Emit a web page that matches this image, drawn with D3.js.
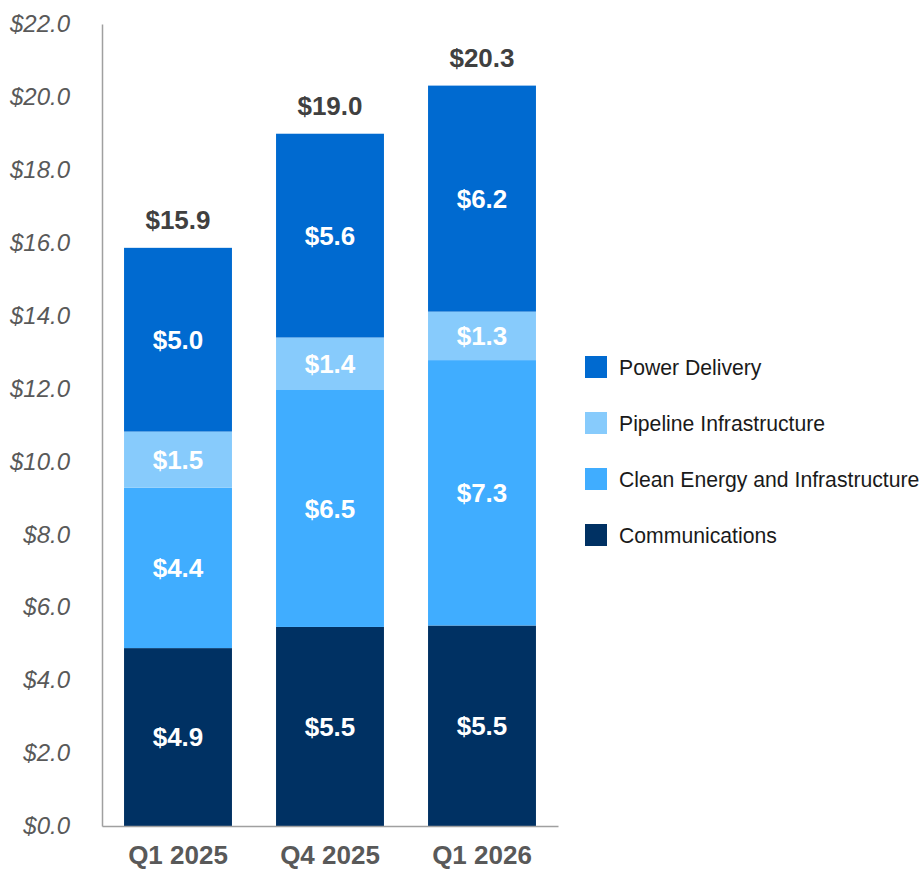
<!DOCTYPE html>
<html>
<head>
<meta charset="utf-8">
<script src="https://cdn.jsdelivr.net/npm/d3@7"></script>
<style>
  html, body { margin: 0; padding: 0; background: #ffffff; }
  svg { display: block; }
</style>
</head>
<body>
<svg id="chart" width="922" height="869"></svg>
<script>
// ---- Data ----
const categories = ["Q1 2025", "Q4 2025", "Q1 2026"];
const seriesNames = ["Communications", "Clean Energy and Infrastructure", "Pipeline Infrastructure", "Power Delivery"];
const communications = [4.88, 5.46, 5.50];
const cleanEnergy = [4.40, 6.50, 7.28];
const pipeline = [1.54, 1.44, 1.33];
const powerDelivery = [5.04, 5.59, 6.20];
const totals = [15.9, 19.0, 20.3];
const yTicks = [0, 2, 4, 6, 8, 10, 12, 14, 16, 18, 20, 22];
const legendOrder = ["Power Delivery", "Pipeline Infrastructure", "Clean Energy and Infrastructure", "Communications"];

const colors = {
  "Communications": "#003163",
  "Clean Energy and Infrastructure": "#40adff",
  "Pipeline Infrastructure": "#87cbfc",
  "Power Delivery": "#006ad0"
};

const seriesValues = [communications, cleanEnergy, pipeline, powerDelivery];
const rows = categories.map((c, i) => {
  const r = { category: c };
  seriesNames.forEach((s, k) => r[s] = seriesValues[k][i]);
  return r;
});

const svg = d3.select("#chart");
const font = "'Liberation Sans', Arial, Helvetica, sans-serif";

const x = d3.scaleBand().domain(categories).range([102, 558]).paddingInner(0.29).paddingOuter(0.145);
const y = d3.scaleLinear().domain([0, 22]).range([826, 24]);

const stack = d3.stack().keys(seriesNames)(rows);

// bars
const layers = svg.append("g").selectAll("g").data(stack).join("g")
  .attr("fill", d => colors[d.key]);
layers.selectAll("rect").data(d => d.map(p => ({ p, key: d.key }))).join("rect")
  .attr("x", d => x(d.p.data.category))
  .attr("width", x.bandwidth())
  .attr("y", d => y(d.p[1]))
  .attr("height", d => y(d.p[0]) - y(d.p[1]));

// segment labels
layers.selectAll("text").data(d => d.map(p => ({ p, key: d.key }))).join("text")
  .attr("x", d => x(d.p.data.category) + x.bandwidth() / 2)
  .attr("y", d => (y(d.p[0]) + y(d.p[1])) / 2)
  .attr("dy", "0.36em")
  .attr("text-anchor", "middle")
  .attr("fill", "#ffffff")
  .attr("font-family", font)
  .attr("font-weight", "bold")
  .attr("font-size", 26)
  .text(d => "$" + (d.p[1] - d.p[0]).toFixed(1));

// totals
svg.append("g").selectAll("text").data(categories).join("text")
  .attr("x", c => x(c) + x.bandwidth() / 2)
  .attr("y", (c, i) => y(d3.sum(seriesValues, s => s[i])) - 19)
  .attr("text-anchor", "middle")
  .attr("fill", "#404040")
  .attr("font-family", font)
  .attr("font-weight", "bold")
  .attr("font-size", 26)
  .text((c, i) => "$" + totals[i].toFixed(1));

// y axis
const yAxis = d3.axisLeft(y).tickValues(yTicks).tickSize(0).tickPadding(32)
  .tickFormat(v => "$" + v.toFixed(1));
const gy = svg.append("g").attr("transform", "translate(102,0)").call(yAxis);
gy.select(".domain").attr("stroke", "#a0a0a0").attr("stroke-width", 1.5);
gy.selectAll("text")
  .attr("font-family", font)
  .attr("font-style", "italic")
  .attr("font-size", 24)
  .attr("fill", "#595959");

// x axis
const xAxis = d3.axisBottom(x).tickSize(0).tickPadding(20);
const gx = svg.append("g").attr("transform", "translate(0,826)").call(xAxis);
gx.select(".domain").attr("stroke", "#a0a0a0").attr("stroke-width", 1.5);
gx.selectAll("text")
  .attr("font-family", font)
  .attr("font-weight", "bold")
  .attr("font-size", 26)
  .attr("fill", "#595959");

// legend
const legend = svg.append("g").attr("transform", "translate(585,356)");
const li = legend.selectAll("g").data(legendOrder).join("g")
  .attr("transform", (d, i) => `translate(0,${i * 56})`);
li.append("rect").attr("width", 22).attr("height", 22).attr("fill", d => colors[d]);
li.append("text")
  .attr("x", 34).attr("y", 11).attr("dy", "0.36em")
  .attr("font-family", font)
  .attr("font-size", 21.2)
  .attr("fill", "#1a1a1a")
  .text(d => d);
</script>
</body>
</html>
